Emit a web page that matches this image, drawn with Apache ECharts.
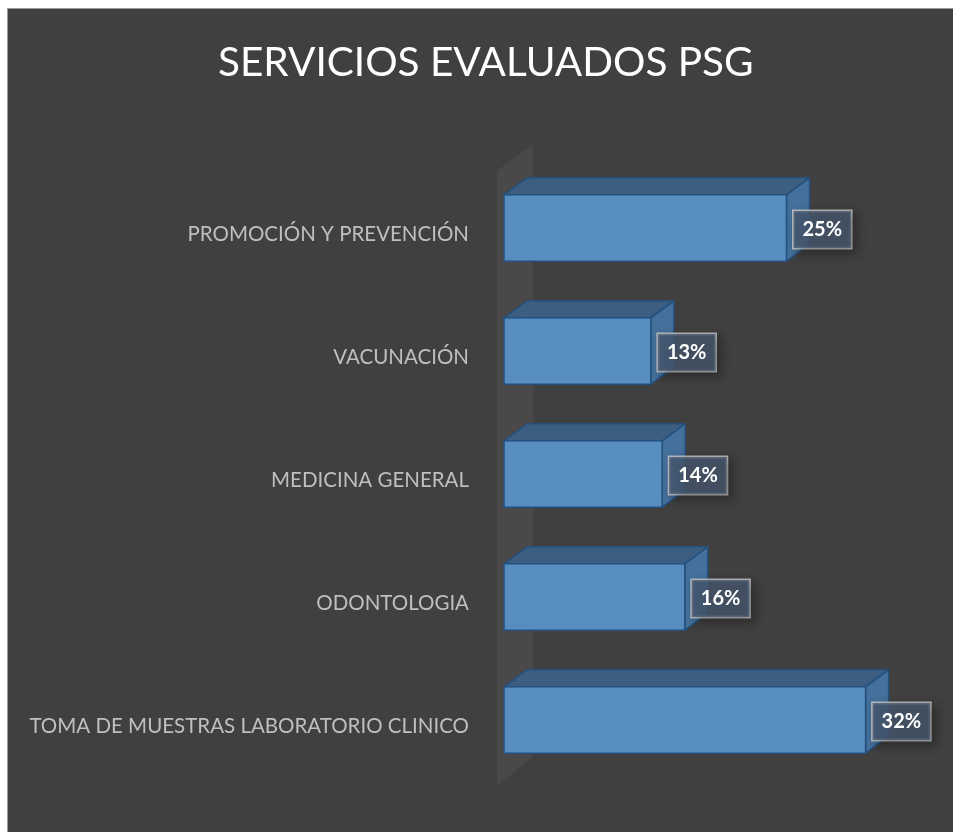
<!DOCTYPE html>
<html>
<head>
<meta charset="utf-8">
<script src="https://cdn.jsdelivr.net/npm/echarts@6/dist/echarts.min.js"></script>
<style>
  html, body { margin: 0; padding: 0; background: #ffffff; }
  #frame { position: absolute; left: 7px; top: 8px; width: 945px; height: 823px;
           border-left: 1px solid #9a9a9a; border-top: 1px solid #9a9a9a; background: #404040; }
  #chart { width: 945px; height: 823px; }
</style>
</head>
<body>
<div id="frame"><div id="chart"></div></div>
<script>
var categories = ['PROMOCIÓN Y PREVENCIÓN', 'VACUNACIÓN', 'MEDICINA GENERAL', 'ODONTOLOGIA', 'TOMA DE MUESTRAS LABORATORIO CLINICO']
var percentages = [25, 13, 14, 16, 32]

var chart = echarts.init(document.getElementById('chart'))

// depth of the 3d boxes, in pixels
var DX = 23, DY = 17

function renderWall(params, api) {
  var cs = params.coordSys
  var xl = cs.x - 7, xr = cs.x + 29
  var top = cs.y, bot = cs.y + cs.height
  return {
    type: 'polygon',
    shape: { points: [[xl, top + 4], [xr, top - 22], [xr, bot - 25], [xl, bot + 5]] },
    style: { fill: '#4a4848' }
  }
}

function renderBar(params, api) {
  var val = api.value(0)
  var cat = api.value(1)
  var start = api.coord([0, cat])
  var end = api.coord([val, cat])
  var h = api.size([0, 1])[1] * 0.54
  var x0 = start[0], x1 = end[0]
  var y0 = start[1] - h / 2, y1 = start[1] + h / 2
  var edge = '#24507f'
  return {
    type: 'group',
    children: [
      // hidden back edges seen through the box
      { type: 'polyline', shape: { points: [[x0 + DX, y0 - DY], [x0 + DX, y1 - DY], [x1 + DX, y1 - DY]] },
        style: { stroke: '#5e9ad2', lineWidth: 1, fill: null, opacity: 0.6 } },
      { type: 'line', shape: { x1: x0, y1: y1, x2: x0 + DX, y2: y1 - DY },
        style: { stroke: '#5e9ad2', lineWidth: 1, opacity: 0.6 } },
      // top face
      { type: 'polygon', shape: { points: [[x0, y0], [x0 + DX, y0 - DY], [x1 + DX, y0 - DY], [x1, y0]] },
        style: { fill: '#3c5f81', stroke: edge, lineWidth: 1.5, lineJoin: 'round' } },
      // right face
      { type: 'polygon', shape: { points: [[x1, y0], [x1 + DX, y0 - DY], [x1 + DX, y1 - DY], [x1, y1]] },
        style: { fill: '#44719b', stroke: edge, lineWidth: 1.5, lineJoin: 'round' } },
      // front face
      { type: 'rect', shape: { x: x0, y: y0, width: x1 - x0, height: h },
        style: { fill: 'rgba(88,143,195,0.97)', stroke: edge, lineWidth: 1.5 } },
      // value label
      { type: 'text', z2: 10,
        style: {
          text: val + '%', x: x1 + 7, y: start[1] + 1.5, align: 'left', verticalAlign: 'middle',
          fill: '#ffffff', font: 'bold 20px Lato, sans-serif',
          backgroundColor: 'rgba(70,88,110,0.8)', borderColor: 'rgba(200,200,200,0.85)', borderWidth: 1.5,
          padding: [9, 9, 8, 9],
          shadowColor: 'rgba(0,0,0,0.35)', shadowBlur: 10, shadowOffsetX: 4, shadowOffsetY: 4
        } }
    ]
  }
}

var barData = percentages.map(function (v, i) { return [v, i] })

chart.setOption({
  backgroundColor: '#404040',
  animation: false,
  title: {
    text: 'SERVICIOS EVALUADOS PSG',
    left: 205,
    top: 28,
    textStyle: { color: '#ffffff', fontSize: 40.5, fontWeight: 'normal', fontFamily: 'Lato' }
  },
  grid: { left: 496, top: 157.5, width: 395.5, height: 615 },
  xAxis: { type: 'value', min: 0, max: 35, show: false },
  yAxis: {
    type: 'category',
    inverse: true,
    data: categories,
    axisLine: { show: false },
    axisTick: { show: false },
    axisLabel: { color: '#bfbfbf', fontSize: 20.5, fontFamily: 'Lato', margin: 35,
                 verticalAlign: 'top', lineHeight: 12 }
  },
  series: [
    { type: 'custom', renderItem: renderWall, data: [[0, 0]], encode: { x: 0, y: 1 }, z: 1, silent: true },
    { type: 'custom', renderItem: renderBar, data: barData, encode: { x: 0, y: 1 }, z: 2 }
  ]
})

window.addEventListener('resize', function () {
  chart.resize()
})
</script>
</body>
</html>
